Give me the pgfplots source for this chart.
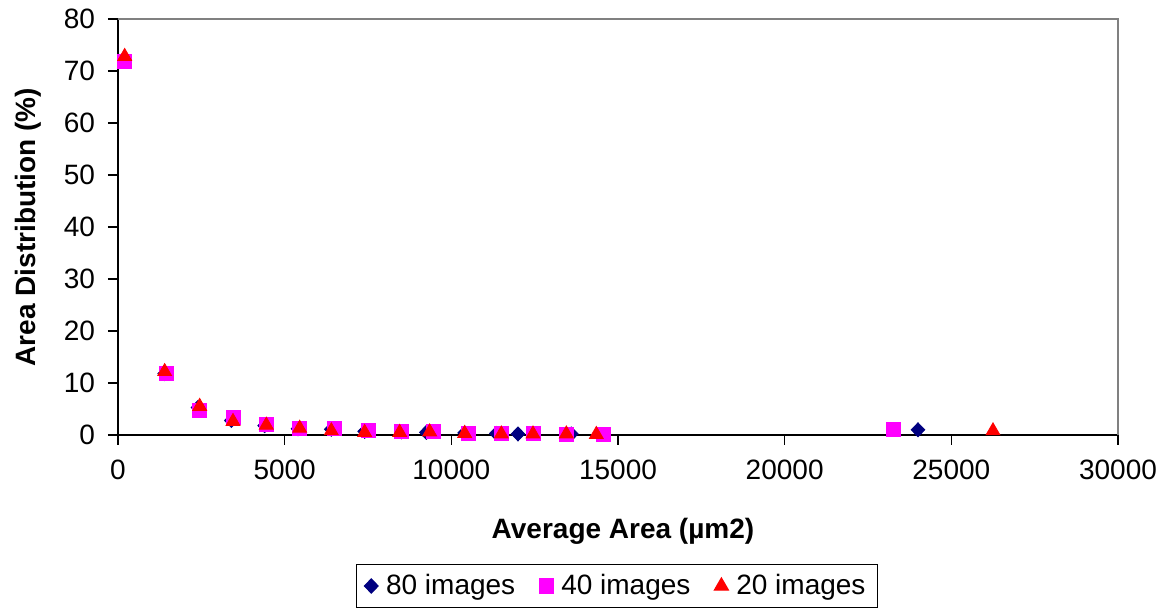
\documentclass[border=0pt]{standalone}
\usepackage{pgfplots}
\pgfplotsset{compat=1.18}
\usepackage{fontspec}
\setmainfont{Liberation Sans}
\definecolor{navyd}{RGB}{0,0,128}
\definecolor{magd}{RGB}{255,0,255}
\definecolor{redd}{RGB}{255,0,0}
\begin{document}
\begin{tikzpicture}
\path (-59pt,-87pt) rectangle (525.5pt,217.5pt);
\begin{axis}[
  at={(0pt,0pt)}, anchor=south west,
  scale only axis, width=500pt, height=208pt,
  xmin=0, xmax=30000, ymin=0, ymax=80,
  xtick={0,5000,...,30000}, ytick={0,10,...,80},
  scaled ticks=false,
  axis x line*=bottom, axis y line*=left,
  axis line style={black, line width=0.6pt},
  tick align=outside, major tick length=5pt,
  tick style={black, line width=0.6pt},
  x tick label style={yshift=-4pt},
  y tick label style={xshift=-3pt},
  /pgf/number format/1000 sep={},
  /pgf/number format/assume math mode=true,
  tick label style={font=\fontsize{14}{16}\selectfont},
  xlabel={\textbf{Average Area (µm2)}},
  ylabel={\textbf{Area Distribution (\%)}},
  label style={font=\fontsize{14}{16}\selectfont},
  xlabel style={at={(axis description cs:0.505,-0.232)}, anchor=center},
  ylabel style={at={(axis description cs:-0.09,0.5)}, anchor=center, rotate=0},
  legend style={at={(axis description cs:0.499,-0.363)}, anchor=center,
    legend columns=3, draw=black, line width=0.6pt,
    font=\fontsize{14}{16}\selectfont,
    /tikz/every even column/.append style={column sep=10pt},
    /tikz/every odd column/.append style={column sep=2pt},
    inner xsep=4pt, inner ysep=3pt},
  clip=false,
]
\addplot[only marks, mark=diamond*, mark size=3.5pt, mark options={xscale=1.3, fill=navyd, draw=navyd}] coordinates {
(200,72.0) (1400,11.8) (2400,5.3) (3400,2.8) (4400,1.8) (5400,1.2) (6400,1.1) (7400,0.7) (8500,0.6) (9250,0.5) (10400,0.4) (11350,0.3) (12000,0.2) (13600,0.2) (24000,1.0)};
\addlegendentry{80 images}
\addplot[only marks, mark=square*, mark size=3.5pt, mark options={fill=magd, draw=magd}] coordinates {
(200,71.8) (1450,11.8) (2450,4.8) (3450,3.3) (4450,2.1) (5450,1.2) (6500,1.2) (7500,0.8) (8500,0.6) (9450,0.6) (10500,0.4) (11500,0.3) (12450,0.3) (13450,0.2) (14550,0.2) (23250,1.0)};
\addlegendentry{40 images}
\addplot[only marks, mark=triangle*, mark size=4pt, mark options={fill=redd, draw=redd}] coordinates {
(200,72.8) (1400,12.2) (2450,5.5) (3450,2.6) (4450,1.9) (5450,1.3) (6400,0.8) (7400,0.5) (8450,0.5) (9350,0.6) (10400,0.3) (11500,0.2) (12450,0.2) (13450,0.2) (14350,0.1) (26250,0.8)};
\addlegendentry{20 images}
\draw[gray, line width=0.8pt] (rel axis cs:0,1) -- (rel axis cs:1,1) -- (rel axis cs:1,0);
\end{axis}
\end{tikzpicture}
\end{document}
